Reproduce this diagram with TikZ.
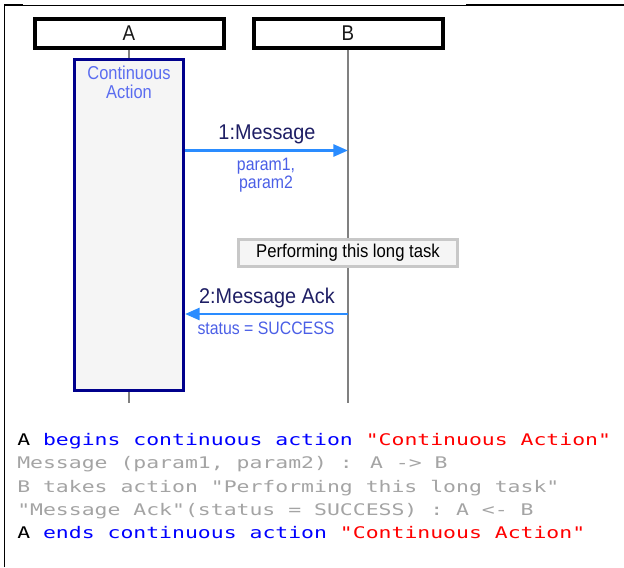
\documentclass[tikz,border=0pt]{standalone}
\usepackage{fontspec}
\setmainfont{Liberation Sans}
\newfontfamily\narrowfont[FakeStretch=0.88]{Liberation Sans}
\newfontfamily\codefont[FakeStretch=1.34]{DejaVu Sans Mono}
\usetikzlibrary{arrows.meta}

\definecolor{msgblue}{HTML}{2A8CFF}
\definecolor{navyedge}{HTML}{00008C}
\definecolor{boxfill}{HTML}{F5F5F5}
\definecolor{lifegray}{HTML}{808080}
\definecolor{actlabel}{HTML}{5A6CF0}
\definecolor{msglabel}{HTML}{1E1E64}
\definecolor{paramlabel}{HTML}{4B5FE6}
\definecolor{taskedge}{HTML}{C8C8C8}
\definecolor{codegray}{HTML}{A4A4A4}

\tikzset{
  header/.style={draw=black, line width=3pt, fill=white, minimum width=141.75pt,
    minimum height=21.75pt, inner sep=0pt, text=black!90,
    font=\narrowfont\fontsize{16}{19}\selectfont},
  lifeline/.style={draw=lifegray, line width=1.1pt},
  activation/.style={draw=navyedge, line width=2.25pt, fill=boxfill,
    minimum width=81.75pt, minimum height=248.25pt, inner sep=0pt},
  msg/.style={draw=msgblue, line width=2.1pt, -{Triangle[length=11pt,width=9pt]}},
  msgtext/.style={text=msglabel, inner sep=0pt,
    font=\narrowfont\addfontfeature{FakeStretch=0.93}\fontsize{16}{19}\selectfont},
  paramtext/.style={text=paramlabel, inner sep=0pt, align=center,
    font=\narrowfont\fontsize{13.5}{13.3}\selectfont},
  taskbox/.style={draw=taskedge, line width=2.25pt, fill=boxfill, minimum width=164.25pt,
    minimum height=20.25pt, inner sep=0pt,
    font=\narrowfont\addfontfeature{FakeStretch=0.9}\fontsize{13.9}{16}\selectfont},
  codeline/.style={anchor=base west, inner sep=0pt, font=\codefont\fontsize{12}{14}\selectfont},
}

\begin{document}
\begin{tikzpicture}[x=0.75pt,y=-0.75pt]
\useasboundingbox (0,0) rectangle (624,567);

% outer frame
\draw[line width=1.1pt] (4.5,567) -- (4.5,5) -- (23,5);
\draw[line width=0.6pt] (23,5) -- (466,5);
\draw[line width=1.3pt] (466,5) -- (624,5);

% participants
\node[header] (A) at (129,33.5) {A};
\node[header] (B) at (348,33.5) {B};
\coordinate (Aend) at (129,402.5);
\coordinate (Bend) at (348,402.5);
\draw[lifeline] (A.south) -- (Aend);
\draw[lifeline] (B.south) -- (Bend);

% continuous action on A
\node[activation] (act) at (129,225) {};
\node[text=actlabel, align=center, inner sep=0pt,
  font=\narrowfont\fontsize{14}{14}\selectfont] (actname) at (129,82) {Continuous\\Action};

% message A -> B
\coordinate (m1) at (348,150.5);
\draw[msg] (act.east |- m1) -- (m1);
\node[msgtext] (m1label) at (267,134) {1:Message};
\node[paramtext] (m1params) at (266,175.5) {param1,\\param2};

% action taken by B
\node[taskbox] (task) at (348,253) {Performing this long task};

% reply B -> A
\coordinate (m2) at (348,314);
\draw[msg] (m2) -- (act.east |- m2);
\node[msgtext] (m2label) at (267,297.5) {2:Message Ack};
\node[paramtext] (m2params) at (266,328) {status = SUCCESS};

% source text
\node[codeline] (c1) at (17,445.5) {A \textcolor{blue}{begins continuous action} \textcolor{red}{"Continuous Action"}};
\node[codeline, text=codegray] (c2) at (17,468.8) {Message (param1, param2) : A -> B};
\node[codeline, text=codegray] (c3) at (17,492.1) {B takes action "Performing this long task"};
\node[codeline, text=codegray] (c4) at (17,515.4) {"Message Ack"(status = SUCCESS) : A <- B};
\node[codeline] (c5) at (17,538.7) {A \textcolor{blue}{ends continuous action} \textcolor{red}{"Continuous Action"}};
\end{tikzpicture}
\end{document}
